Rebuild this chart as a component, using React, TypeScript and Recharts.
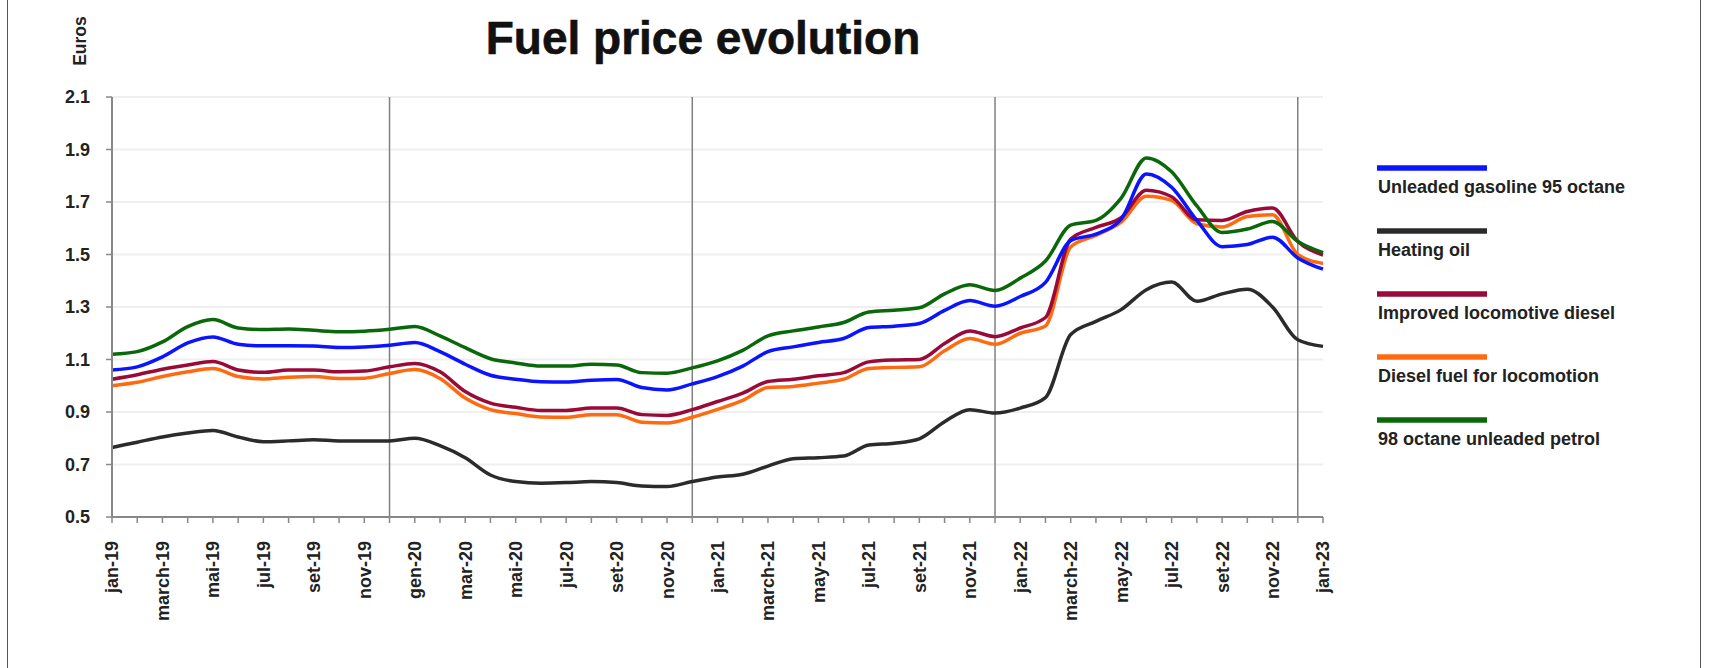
import React from 'react';
import { LineChart, Line, XAxis, YAxis, CartesianGrid, ReferenceLine } from 'recharts';

const FONT = '"Liberation Sans", Arial, Helvetica, sans-serif';

const months = [
  'jan-19', 'feb-19', 'mar-19', 'apr-19', 'may-19', 'jun-19', 'jul-19', 'aug-19', 'sep-19', 'oct-19', 'nov-19', 'dec-19',
  'jan-20', 'feb-20', 'mar-20', 'apr-20', 'may-20', 'jun-20', 'jul-20', 'aug-20', 'sep-20', 'oct-20', 'nov-20', 'dec-20',
  'jan-21', 'feb-21', 'mar-21', 'apr-21', 'may-21', 'jun-21', 'jul-21', 'aug-21', 'sep-21', 'oct-21', 'nov-21', 'dec-21',
  'jan-22', 'feb-22', 'mar-22', 'apr-22', 'may-22', 'jun-22', 'jul-22', 'aug-22', 'sep-22', 'oct-22', 'nov-22', 'dec-22',
  'jan-23',
];

const tickLabels = [
  'jan-19', 'march-19', 'mai-19', 'jul-19', 'set-19', 'nov-19',
  'gen-20', 'mar-20', 'mai-20', 'jul-20', 'set-20', 'nov-20',
  'jan-21', 'march-21', 'may-21', 'jul-21', 'set-21', 'nov-21',
  'jan-22', 'march-22', 'may-22', 'jul-22', 'set-22', 'nov-22',
  'jan-23',
];

const yearEnds = ['dec-19', 'dec-20', 'dec-21', 'dec-22'];
const yTicks = [0.5, 0.7, 0.9, 1.1, 1.3, 1.5, 1.7, 1.9, 2.1];

const gasoline95 = [
  1.06, 1.072, 1.11, 1.163, 1.186, 1.158, 1.152, 1.152, 1.151, 1.146, 1.148, 1.154,
  1.165, 1.13, 1.082, 1.04, 1.025, 1.015, 1.014, 1.021, 1.024, 0.993, 0.984, 1.007,
  1.035, 1.075, 1.13, 1.148, 1.165, 1.18, 1.222, 1.227, 1.237, 1.287, 1.325, 1.303,
  1.34, 1.394, 1.553, 1.578, 1.635, 1.807, 1.756, 1.63, 1.53, 1.538, 1.566, 1.487,
  1.444,
];

const heatingOil = [
  0.765, 0.785, 0.805, 0.82, 0.83, 0.805, 0.787, 0.79, 0.794, 0.79, 0.79, 0.79,
  0.8, 0.772, 0.726, 0.66, 0.635, 0.629, 0.631, 0.635, 0.631, 0.618, 0.616, 0.635,
  0.652, 0.663, 0.694, 0.722, 0.726, 0.732, 0.774, 0.781, 0.798, 0.863, 0.909, 0.896,
  0.915, 0.955, 1.195, 1.245, 1.29, 1.366, 1.395, 1.322, 1.35, 1.368, 1.3, 1.175,
  1.15,
];

const improvedDiesel = [
  1.025, 1.042, 1.063, 1.079, 1.092, 1.06, 1.051, 1.06, 1.06, 1.053, 1.056, 1.072,
  1.085, 1.053, 0.978, 0.934, 0.918, 0.906, 0.906, 0.915, 0.915, 0.89, 0.887, 0.909,
  0.94, 0.972, 1.016, 1.025, 1.038, 1.05, 1.091, 1.098, 1.1, 1.161, 1.209, 1.187,
  1.22, 1.26, 1.559, 1.603, 1.64, 1.745, 1.72, 1.632, 1.63, 1.664, 1.677, 1.55,
  1.498,
];

const dieselLocomotion = [
  1.0, 1.013, 1.035, 1.053, 1.066, 1.035, 1.026, 1.032, 1.035, 1.028, 1.029, 1.047,
  1.062, 1.028, 0.953, 0.909, 0.894, 0.881, 0.88, 0.89, 0.89, 0.861, 0.858, 0.88,
  0.91, 0.944, 0.993, 0.997, 1.01, 1.025, 1.066, 1.07, 1.072, 1.133, 1.18, 1.158,
  1.2, 1.228, 1.529, 1.573, 1.623, 1.722, 1.706, 1.617, 1.605, 1.645, 1.651, 1.5,
  1.466,
];

const petrol98 = [
  1.12, 1.13, 1.167, 1.225, 1.252, 1.22, 1.214, 1.216, 1.211, 1.206, 1.208, 1.215,
  1.226, 1.19, 1.145, 1.103, 1.087, 1.075, 1.075, 1.082, 1.079, 1.05, 1.048, 1.068,
  1.095, 1.135, 1.19, 1.209, 1.224, 1.241, 1.281, 1.288, 1.297, 1.35, 1.385, 1.363,
  1.41, 1.475, 1.612, 1.63, 1.715, 1.868, 1.815, 1.685, 1.584, 1.597, 1.626, 1.55,
  1.507,
];

const series = [
  { key: 'gasoline95', name: 'Unleaded gasoline 95 octane', color: '#0a14ff', values: gasoline95 },
  { key: 'heatingOil', name: 'Heating oil', color: '#2b2b2b', values: heatingOil },
  { key: 'improvedDiesel', name: 'Improved locomotive diesel', color: '#990a38', values: improvedDiesel },
  { key: 'dieselLocomotion', name: 'Diesel fuel for locomotion', color: '#ff6a10', values: dieselLocomotion },
  { key: 'petrol98', name: '98 octane unleaded petrol', color: '#0a680a', values: petrol98 },
];

const drawOrder = ['heatingOil', 'dieselLocomotion', 'improvedDiesel', 'gasoline95', 'petrol98'];

const data = months.map((m, i) => {
  const row: Record<string, string | number> = { month: m };
  series.forEach((s) => {
    row[s.key] = s.values[i];
  });
  return row;
});

const XTick = (props: any) => {
  const { x, y, payload } = props;
  const i = payload.index;
  if (i % 2 !== 0) return <g />;
  return (
    <text
      x={x}
      y={y}
      transform={`rotate(-90, ${x}, ${y})`}
      textAnchor="end"
      dy="0.36em"
      fontFamily={FONT}
      fontSize={18}
      fontWeight={700}
      fill="#222"
    >
      {tickLabels[i / 2]}
    </text>
  );
};

const legendTop = 168;
const legendStep = 63;

export default function App() {
  return (
    <div style={{ position: 'absolute', left: 0, top: 0, width: 1722, height: 668, overflow: 'hidden', background: '#fff' }}>
      <div
        style={{
          position: 'absolute',
          left: 7,
          top: -10,
          width: 1694,
          height: 720,
          border: '1.5px solid #555',
          boxSizing: 'border-box',
        }}
      />
      <div style={{ position: 'absolute', left: 0, top: 0 }}>
        <LineChart
          width={1722}
          height={668}
          data={data}
          margin={{ top: 97, right: 399, left: 12, bottom: 31 }}
        >
          <CartesianGrid horizontal vertical={false} stroke="#efefef" strokeWidth={2} />
          <XAxis
            dataKey="month"
            scale="point"
            interval={0}
            height={120}
            tick={<XTick />}
            tickSize={6}
            tickMargin={18}
            axisLine={{ stroke: '#888', strokeWidth: 2 }}
            tickLine={{ stroke: '#888', strokeWidth: 1.5 }}
          />
          <YAxis
            width={100}
            domain={[0.5, 2.1]}
            ticks={yTicks}
            type="number"
            allowDataOverflow
            tickFormatter={(v: number) => v.toFixed(1)}
            tick={{ fontFamily: FONT, fontSize: 18, fontWeight: 700, fill: '#222' }}
            tickSize={6}
            tickMargin={16}
            axisLine={{ stroke: '#888', strokeWidth: 2 }}
            tickLine={{ stroke: '#888', strokeWidth: 1.5 }}
          />
          {yearEnds.map((m) => (
            <ReferenceLine key={m} x={m} stroke="#808080" strokeWidth={1.5} />
          ))}
          {drawOrder.map((k) => {
            const s = series.find((q) => q.key === k)!;
            return (
              <Line
                key={s.key}
                dataKey={s.key}
                name={s.name}
                type="monotone"
                stroke={s.color}
                strokeWidth={3.5}
                dot={false}
                activeDot={false}
                isAnimationActive={false}
              />
            );
          })}
        </LineChart>
      </div>
      <svg
        width={1722}
        height={668}
        style={{ position: 'absolute', left: 0, top: 0, pointerEvents: 'none' }}
      >
        <text x={703} y={54} textAnchor="middle" fontFamily={FONT} fontSize={46} fontWeight={700} fill="#111" stroke="#111" strokeWidth={0.6}>
          Fuel price evolution
        </text>
        <text
          x={80}
          y={41}
          transform="rotate(-90, 80, 41)"
          textAnchor="middle"
          dy="0.36em"
          fontFamily={FONT}
          fontSize={17.5}
          fontWeight={700}
          fill="#222"
        >
          Euros
        </text>
        {series.map((s, i) => (
          <g key={s.key}>
            <line
              x1={1377}
              x2={1487}
              y1={legendTop + i * legendStep}
              y2={legendTop + i * legendStep}
              stroke={s.color}
              strokeWidth={5.5}
            />
            <text
              x={1378}
              y={legendTop + 25 + i * legendStep}
              fontFamily={FONT}
              fontSize={18}
              fontWeight={700}
              fill="#222"
            >
              {s.name}
            </text>
          </g>
        ))}
      </svg>
    </div>
  );
}
